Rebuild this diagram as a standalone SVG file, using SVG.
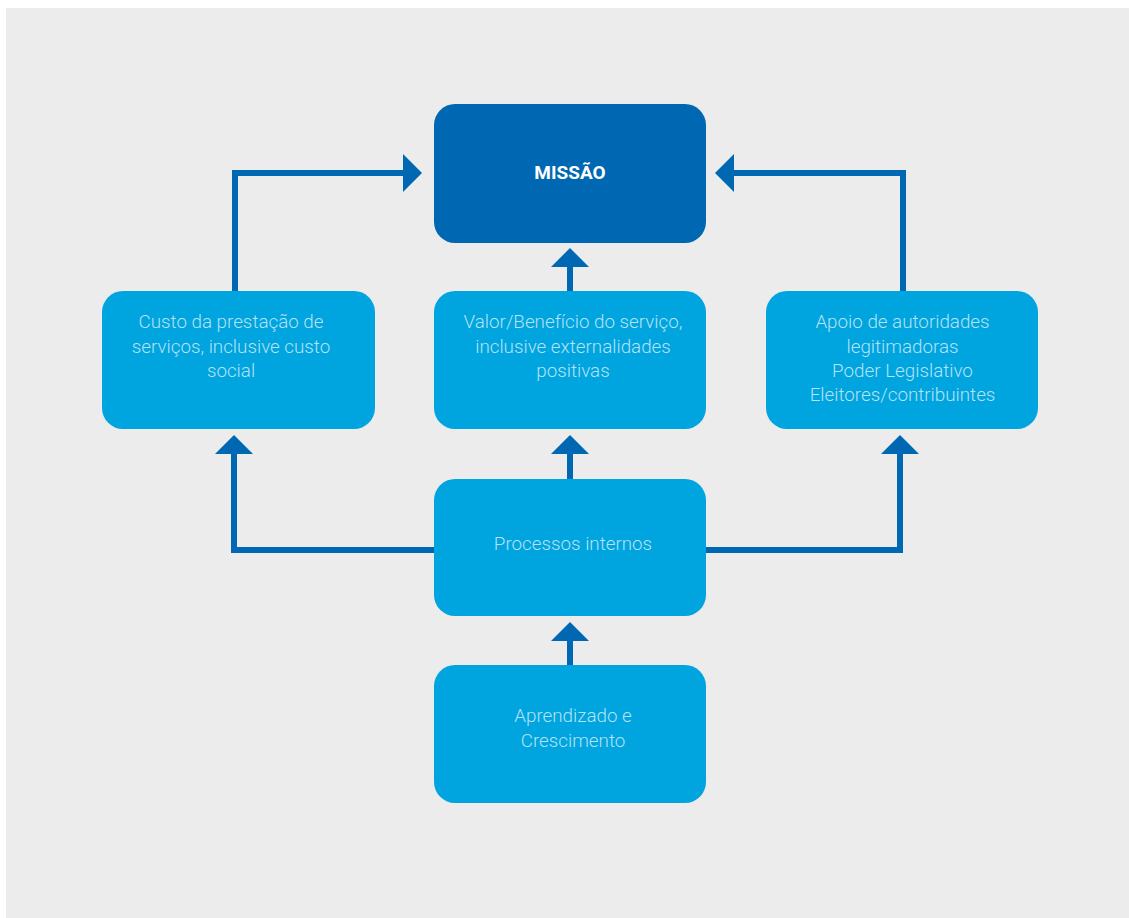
<svg xmlns="http://www.w3.org/2000/svg" width="1129" height="918" viewBox="0 0 1129 918">
  <style>
    .box { fill: #00a4de; }
    .box-main { fill: #0068b3; }
    .label { font-family: Roboto, "Open Sans", "Liberation Sans", sans-serif; font-weight: 300; font-size: 18.8px; fill: #b4e2f6; text-anchor: middle; }
    .title { font-family: Roboto, "Open Sans", "Liberation Sans", sans-serif; font-weight: 700; font-size: 19px; fill: #ffffff; text-anchor: middle; }
    .wire { fill: none; stroke: #0068b3; stroke-width: 6; stroke-linejoin: miter; }
    .head { fill: #0068b3; }
  </style>

  <rect x="0" y="0" width="1129" height="918" fill="#ffffff"/>
  <rect x="6" y="8" width="1123" height="910" fill="#ececec"/>

  <!-- connectors -->
  <g id="connectors">
    <!-- custo -> missão -->
    <path class="wire" d="M235 292 V173 H404"/>
    <polygon class="head" points="403,154 422,173 403,192"/>
    <!-- apoio -> missão -->
    <path class="wire" d="M903 292 V173 H733"/>
    <polygon class="head" points="734,154 715,173 734,192"/>
    <!-- valor -> missão -->
    <path class="wire" d="M570 292 V266"/>
    <polygon class="head" points="551,267 570,248 589,267"/>
    <!-- processos -> valor -->
    <path class="wire" d="M570 480 V453"/>
    <polygon class="head" points="551,454 570,435 589,454"/>
    <!-- processos -> custo -->
    <path class="wire" d="M435 550 H234 V453"/>
    <polygon class="head" points="215,454 234,435 253,454"/>
    <!-- processos -> apoio -->
    <path class="wire" d="M705 550 H900 V453"/>
    <polygon class="head" points="881,454 900,435 919,454"/>
    <!-- aprendizado -> processos -->
    <path class="wire" d="M570 666 V640"/>
    <polygon class="head" points="551,641 570,622 589,641"/>
  </g>

  <g id="missao">
    <rect class="box-main" x="434" y="104" width="272" height="139" rx="21"/>
    <text class="title" x="570" y="179">MISSÃO</text>
  </g>

  <g id="custo">
    <rect class="box" x="102" y="291" width="273" height="138" rx="21"/>
    <text class="label" x="231" y="328">Custo da prestação de</text>
    <text class="label" x="231" y="352.5">serviços, inclusive custo</text>
    <text class="label" x="231" y="377">social</text>
  </g>

  <g id="valor">
    <rect class="box" x="434" y="291" width="272" height="138" rx="21"/>
    <text class="label" x="573" y="328">Valor/Benefício do serviço,</text>
    <text class="label" x="573" y="352.5">inclusive externalidades</text>
    <text class="label" x="573" y="377">positivas</text>
  </g>

  <g id="apoio">
    <rect class="box" x="766" y="291" width="272" height="138" rx="21"/>
    <text class="label" x="902.5" y="328">Apoio de autoridades</text>
    <text class="label" x="902.5" y="352.5">legitimadoras</text>
    <text class="label" x="902.5" y="377">Poder Legislativo</text>
    <text class="label" x="902.5" y="401">Eleitores/contribuintes</text>
  </g>

  <g id="processos">
    <rect class="box" x="434" y="479" width="272" height="137" rx="21"/>
    <text class="label" x="573" y="550">Processos internos</text>
  </g>

  <g id="aprendizado">
    <rect class="box" x="434" y="665" width="272" height="138" rx="21"/>
    <text class="label" x="573" y="722">Aprendizado e</text>
    <text class="label" x="573" y="746.5">Crescimento</text>
  </g>
</svg>
